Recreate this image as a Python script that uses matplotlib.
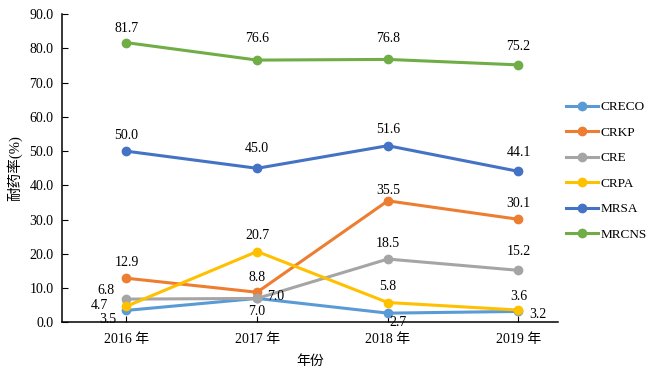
import matplotlib.pyplot as plt
from matplotlib.ticker import FormatStrFormatter

plt.rcParams['font.family'] = ['Liberation Serif', 'Noto Sans CJK SC', 'DejaVu Sans']

# ── data ──
years = ["2016 年", "2017 年", "2018 年", "2019 年"]
series_names = ["CRECO", "CRKP", "CRE", "CRPA", "MRSA", "MRCNS"]
creco = [3.5, 7.0, 2.7, 3.2]
crkp = [12.9, 8.8, 35.5, 30.1]
cre = [6.8, 7.0, 18.5, 15.2]
crpa = [4.7, 20.7, 5.8, 3.6]
mrsa = [50.0, 45.0, 51.6, 44.1]
mrcns = [81.7, 76.6, 76.8, 75.2]
y_ticks = [0, 10, 20, 30, 40, 50, 60, 70, 80, 90]

colors = ["#5B9BD5", "#ED7D31", "#A5A5A5", "#FFC000", "#4472C4", "#70AD47"]

# label offsets in pixels (dx, dy), per series per year
label_off = {
    "CRECO": [(-19, -9), (0, -13), (10, -9), (19, -3)],
    "CRKP": [(0, 16), (0, 15), (0, 10), (0, 16)],
    "CRE": [(-21, 9), (19, 2), (0, 16), (0, 19)],
    "CRPA": [(-27, 1), (0, 16), (0, 16), (0, 14)],
    "MRSA": [(0, 16), (0, 20), (0, 16), (0, 19)],
    "MRCNS": [(0, 14), (0, 22), (0, 21), (0, 18)],
}

all_series = [creco, crkp, cre, crpa, mrsa, mrcns]

fig = plt.figure(figsize=(6.5, 3.74), dpi=100)
ax = fig.add_axes([0.095, 0.138, 0.763, 0.824])

x = list(range(len(years)))
for name, vals, c in zip(series_names, all_series, colors):
    ax.plot(x, vals, color=c, lw=2.2, marker='o', ms=6, label=name)
    for xi, v, (dx, dy) in zip(x, vals, label_off[name]):
        ax.annotate(f"{v:.1f}", (xi, v), xytext=(dx, dy), textcoords='offset pixels',
                    ha='center', va='center', fontsize=10, color='black')

ax.set_xlim(-0.495, 3.3)
ax.set_ylim(0, 90)
ax.set_xticks(x)
ax.set_xticklabels(years, fontsize=10)
ax.set_yticks(y_ticks)
ax.yaxis.set_major_formatter(FormatStrFormatter('%.1f'))
ax.tick_params(axis='y', direction='in', length=4, labelsize=10, pad=6)
ax.tick_params(axis='x', direction='in', length=4, pad=8)
for s in ['top', 'right']:
    ax.spines[s].set_visible(False)
for s in ['left', 'bottom']:
    ax.spines[s].set_linewidth(1.1)

ax.set_ylabel("耐药率(%)", fontsize=10.5, labelpad=5)
ax.set_xlabel("年份", fontsize=10, labelpad=6)

fig.legend(loc='center left', bbox_to_anchor=(0.853, 0.543), frameon=False,
           fontsize=9.5, handlelength=2.4, handletextpad=0.2, labelspacing=1.0)

fig.savefig("out.png", dpi=100)
